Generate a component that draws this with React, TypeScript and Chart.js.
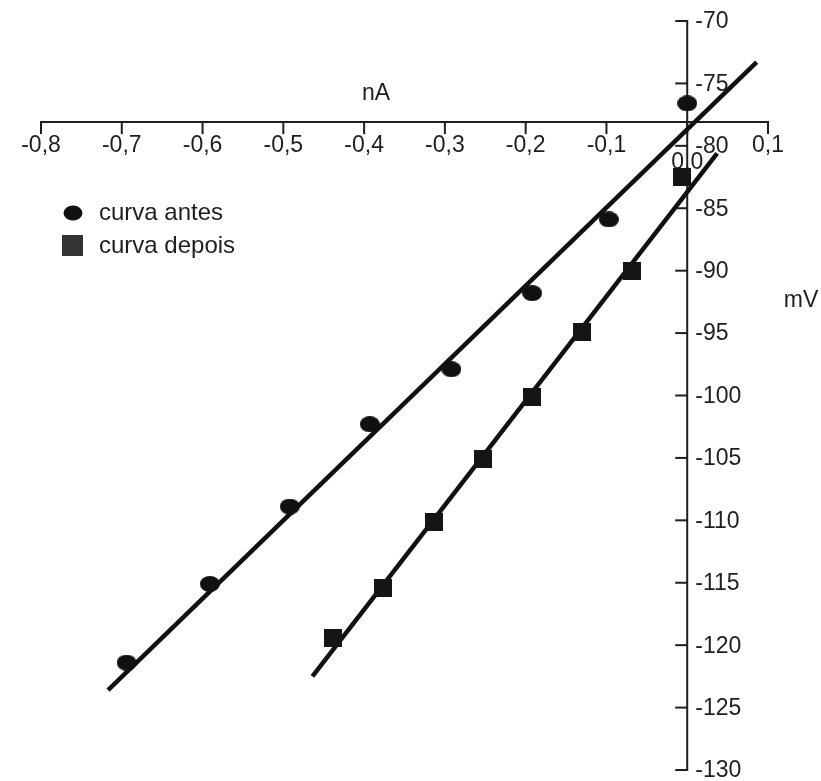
import React, { useEffect, useRef } from "react";
import { Chart, registerables } from "chart.js";

Chart.register(...registerables);

// ---- data ----
const xTickValues = [-0.8, -0.7, -0.6, -0.5, -0.4, -0.3, -0.2, -0.1, 0, 0.1];
const yTickValues = [-70, -75, -80, -85, -90, -95, -100, -105, -110, -115, -120, -125, -130];
const xAxisCrossing = -78.1; // mV level at which the nA axis is drawn
const yAxisCrossing = 0; // nA level at which the mV axis is drawn

const antesCurrent = [0, -0.097, -0.192, -0.292, -0.393, -0.492, -0.591, -0.694];
const antesVoltage = [-76.6, -85.9, -91.8, -97.9, -102.3, -108.9, -115.1, -121.4];

const depoisCurrent = [-0.007, -0.068, -0.13, -0.192, -0.253, -0.313, -0.377, -0.439];
const depoisVoltage = [-82.5, -90.0, -94.9, -100.1, -105.1, -110.1, -115.4, -119.4];

const fitAntesCurrent = [-0.717, 0.086];
const fitAntesVoltage = [-123.6, -73.3];
const fitDepoisCurrent = [-0.464, 0.037];
const fitDepoisVoltage = [-122.5, -80.6];

const xTitle = "nA";
const yTitle = "mV";
const legendLabels = ["curva antes", "curva depois"];

const FONT = '"Liberation Sans", Arial, sans-serif';

function pairs(xs: number[], ys: number[]) {
  return xs.map((x, i) => ({ x, y: ys[i] }));
}

function makeEllipse(w: number, h: number, color: string) {
  const c = document.createElement("canvas");
  c.width = w;
  c.height = h;
  const ctx = c.getContext("2d")!;
  ctx.fillStyle = color;
  ctx.beginPath();
  ctx.ellipse(w / 2, h / 2, w / 2, h / 2, 0, 0, Math.PI * 2);
  ctx.fill();
  return c;
}

function makeSquare(w: number, h: number, color: string) {
  const c = document.createElement("canvas");
  c.width = w;
  c.height = h;
  const ctx = c.getContext("2d")!;
  ctx.fillStyle = color;
  ctx.fillRect(0, 0, w, h);
  return c;
}

const fmtX = (v: number) => (Math.abs(v) < 1e-9 ? "0,0" : v.toFixed(1).replace(".", ","));

const axesPlugin = {
  id: "crossAxes",
  beforeDatasetsDraw(chart: any) {
    const { ctx, scales } = chart;
    const xs = scales.x;
    const ys = scales.y;
    const axisY = ys.getPixelForValue(xAxisCrossing);
    const axisX = xs.getPixelForValue(yAxisCrossing);
    ctx.save();
    ctx.strokeStyle = "#1e1e1e";
    ctx.lineWidth = 2;
    ctx.lineCap = "butt";
    // horizontal axis
    ctx.beginPath();
    ctx.moveTo(xs.getPixelForValue(xTickValues[0]) - 1, axisY);
    ctx.lineTo(xs.getPixelForValue(xTickValues[xTickValues.length - 1]) + 1, axisY);
    ctx.stroke();
    // vertical axis
    ctx.beginPath();
    ctx.moveTo(axisX, ys.getPixelForValue(yTickValues[0]) - 1);
    ctx.lineTo(axisX, ys.getPixelForValue(yTickValues[yTickValues.length - 1]) + 1);
    ctx.stroke();
    // x ticks
    ctx.fillStyle = "#1e1e1e";
    ctx.font = `23px ${FONT}`;
    ctx.textBaseline = "middle";
    ctx.textAlign = "center";
    xTickValues.forEach((v) => {
      const px = xs.getPixelForValue(v);
      ctx.beginPath();
      ctx.moveTo(px, axisY);
      ctx.lineTo(px, axisY + 12);
      ctx.stroke();
      const dy = Math.abs(v) < 1e-9 ? 41 : 24;
      ctx.fillText(fmtX(v), px, axisY + dy);
    });
    // y ticks
    ctx.textAlign = "left";
    yTickValues.forEach((v) => {
      const py = ys.getPixelForValue(v);
      ctx.beginPath();
      ctx.moveTo(axisX, py);
      ctx.lineTo(axisX - 12, py);
      ctx.stroke();
      ctx.fillText(String(v), axisX + 8, py + 1);
    });
    // titles
    ctx.textAlign = "center";
    ctx.fillText(xTitle, 376, axisY - 28);
    ctx.fillText(yTitle, 801, ys.getPixelForValue(-92.4));
    ctx.restore();
  },
  afterDraw(chart: any) {
    const { ctx } = chart;
    ctx.save();
    ctx.fillStyle = "#111";
    ctx.beginPath();
    ctx.ellipse(73, 213, 9.5, 7.5, 0, 0, Math.PI * 2);
    ctx.fill();
    ctx.fillStyle = "#333";
    ctx.fillRect(62, 235, 21, 21);
    ctx.fillStyle = "#1e1e1e";
    ctx.font = `24px ${FONT}`;
    ctx.textBaseline = "middle";
    ctx.textAlign = "left";
    ctx.fillText(legendLabels[0], 99, 213);
    ctx.fillText(legendLabels[1], 99, 246);
    ctx.restore();
  },
};

export default function App() {
  const canvasRef = useRef<HTMLCanvasElement | null>(null);

  useEffect(() => {
    if (!canvasRef.current) return;
    const ellipse = makeEllipse(20, 16, "#111");
    const square = makeSquare(18, 18, "#151515");
    const chart = new Chart(canvasRef.current, {
      type: "scatter",
      data: {
        datasets: [
          {
            label: "fit antes",
            data: pairs(fitAntesCurrent, fitAntesVoltage),
            showLine: true,
            borderColor: "#111",
            borderWidth: 4.5,
            pointRadius: 0,
            order: 2,
          },
          {
            label: "fit depois",
            data: pairs(fitDepoisCurrent, fitDepoisVoltage),
            showLine: true,
            borderColor: "#111",
            borderWidth: 4.5,
            pointRadius: 0,
            order: 2,
          },
          {
            label: legendLabels[0],
            data: pairs(antesCurrent, antesVoltage),
            pointStyle: ellipse as any,
            pointRadius: 9,
            order: 1,
          },
          {
            label: legendLabels[1],
            data: pairs(depoisCurrent, depoisVoltage),
            pointStyle: square as any,
            pointRadius: 9,
            order: 1,
          },
        ],
      },
      options: {
        animation: false,
        responsive: true,
        maintainAspectRatio: false,
        layout: { padding: { left: 41, right: 53, top: 21, bottom: 11 } },
        plugins: { legend: { display: false }, tooltip: { enabled: false } },
        events: [],
        scales: {
          x: { type: "linear", min: -0.8, max: 0.1, display: false },
          y: { type: "linear", min: -130, max: -70, display: false },
        },
      },
      plugins: [axesPlugin],
    });
    return () => chart.destroy();
  }, []);

  return (
    <div style={{ position: "absolute", left: 0, top: 0, width: 821, height: 781, background: "#fff" }}>
      <canvas ref={canvasRef} />
    </div>
  );
}
